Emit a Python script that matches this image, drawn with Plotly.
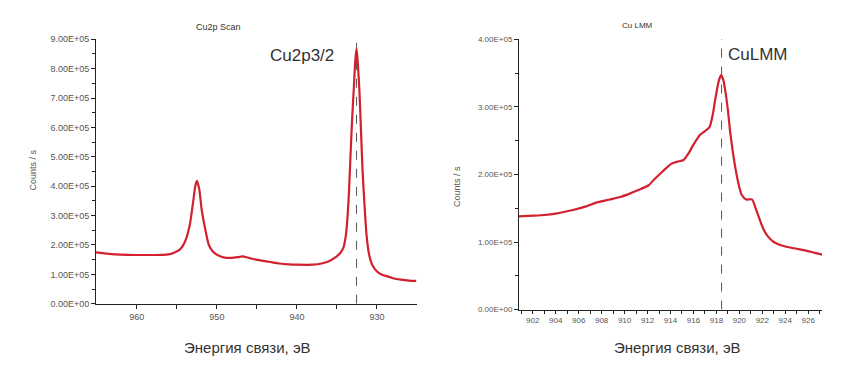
import plotly.graph_objects as go

# ---- data: Cu2p scan ----
cu2p_energy = [965.1, 963.5, 962.0, 960.0, 958.0, 956.3, 955.5, 954.6, 954.0, 953.4, 953.0, 952.7,
               952.5, 952.2, 951.9, 951.5, 951.0, 950.5, 949.8, 949.2, 948.2, 947.3, 946.8, 946.0,
               945.1, 943.5, 942.2, 941.0, 940.0, 938.0, 936.8, 936.0, 935.2, 934.6, 934.2, 933.9,
               933.7, 933.5, 933.3, 933.1, 932.9, 932.7, 932.55, 932.4, 932.2, 932.0, 931.8, 931.5,
               931.3, 931.0, 930.6, 930.0, 929.3, 928.9, 928.0, 927.0, 926.0, 925.1]
cu2p_counts = [1.75, 1.70, 1.67, 1.66, 1.66, 1.67, 1.72, 1.85, 2.10, 2.66, 3.40, 4.00,
               4.18, 3.90, 3.20, 2.60, 2.00, 1.78, 1.64, 1.58, 1.56, 1.59, 1.61, 1.56,
               1.50, 1.43, 1.37, 1.34, 1.33, 1.33, 1.38, 1.45, 1.58, 1.72, 1.90, 2.30,
               2.88, 3.80, 5.09, 6.30, 7.30, 8.30, 8.68, 8.20, 7.30, 5.90, 4.54, 3.10,
               2.33, 1.70, 1.33, 1.10, 0.98, 0.95, 0.87, 0.82, 0.79, 0.78]  # x1e5

# ---- data: Cu LMM ----
lmm_energy = [900.8, 902.0, 903.0, 904.0, 905.4, 906.5, 907.7, 908.7, 909.7, 910.5, 911.2, 912.1,
              912.6, 913.1, 913.6, 914.1, 914.6, 915.1, 915.6, 916.0, 916.6, 917.0, 917.4, 917.7,
              917.9, 918.2, 918.4, 918.6, 918.8, 919.0, 919.2, 919.6, 919.9, 920.2, 920.6, 921.1,
              921.5, 921.8, 922.1, 922.5, 923.0, 923.5, 924.1, 925.0, 925.9, 926.6, 927.3]
lmm_counts = [1.38, 1.39, 1.40, 1.42, 1.47, 1.52, 1.59, 1.63, 1.67, 1.72, 1.77, 1.84,
              1.93, 2.01, 2.09, 2.16, 2.19, 2.21, 2.32, 2.44, 2.59, 2.64, 2.70, 2.90,
              3.11, 3.38, 3.47, 3.40, 3.21, 2.95, 2.63, 2.15, 1.88, 1.70, 1.63, 1.63,
              1.46, 1.32, 1.19, 1.08, 1.00, 0.96, 0.93, 0.90, 0.87, 0.84, 0.81]  # x1e5

cu2p_peak = 932.55
lmm_peak = 918.45

left_yticks = [i * 1e5 for i in range(0, 10)]
right_yticks = [i * 1e5 for i in range(0, 5)]
left_xticks = list(range(930, 965, 5))
right_xticks = list(range(901, 928))

FONT = "Liberation Sans, Arial, sans-serif"
RED = "#d3202e"
OFF = 8            # page body margin
W, H = 841 - OFF, 372 - OFF


def fx(p):
    return (p - OFF) / W


def fy(p):
    return 1 - (p - OFF) / H


fig = go.Figure()
fig.add_trace(go.Scatter(x=cu2p_energy, y=[c * 1e5 for c in cu2p_counts], mode="lines",
                         line=dict(color=RED, width=2.2, shape="spline", smoothing=0.6),
                         xaxis="x", yaxis="y", showlegend=False))
fig.add_trace(go.Scatter(x=lmm_energy, y=[c * 1e5 for c in lmm_counts], mode="lines",
                         line=dict(color=RED, width=2.2, shape="spline", smoothing=0.6),
                         xaxis="x2", yaxis="y2", showlegend=False))

axis_common = dict(showline=True, linecolor="#222", linewidth=1, ticks="outside",
                   tickcolor="#222", showgrid=False, zeroline=False, mirror=False)

fig.update_layout(
    width=W, height=H, paper_bgcolor="white", plot_bgcolor="white",
    margin=dict(l=0, r=0, t=0, b=0), showlegend=False,
    font=dict(family=FONT, color="#444"),
    xaxis=dict(domain=[fx(96), fx(417)], range=[965.1, 925.0], anchor="y",
               tickvals=left_xticks,
               ticktext=[str(v) if v % 10 == 0 else "" for v in left_xticks],
               ticklen=4, tickfont=dict(size=9, color="#555"), **axis_common),
    yaxis=dict(domain=[fy(307), fy(35)], range=[0, 9e5], anchor="x",
               tickvals=left_yticks, ticktext=[f"{v:.2E}" for v in left_yticks],
               ticklen=4, tickfont=dict(size=9, color="#555"),
               minor=dict(dtick=5e4, ticklen=3, tickcolor="#222", ticks="outside"),
               **axis_common),
    xaxis2=dict(domain=[fx(519), fx(822)], range=[900.8, 927.2], anchor="y2",
                tickvals=right_xticks,
                ticktext=[str(v) if v % 2 == 0 else "" for v in right_xticks],
                ticklen=3, tickfont=dict(size=8, color="#555"), **axis_common),
    yaxis2=dict(domain=[fy(313), fy(35)], range=[0, 4e5], anchor="x2",
                tickvals=right_yticks, ticktext=[f"{v:.2E}" for v in right_yticks],
                ticklen=4, tickfont=dict(size=8, color="#555"),
                minor=dict(dtick=5e4, ticklen=3, tickcolor="#222", ticks="outside"),
                **axis_common),
)

# dashed peak markers
fig.add_shape(type="line", xref="x", yref="y", x0=cu2p_peak, x1=cu2p_peak, y0=0, y1=9e5,
              line=dict(color="#555", width=1, dash="dash"), layer="below")
fig.add_shape(type="line", xref="x2", yref="y2", x0=lmm_peak, x1=lmm_peak, y0=0, y1=4.05e5,
              line=dict(color="#555", width=1, dash="dash"), layer="below")

mid = dict(showarrow=False, xanchor="center", yanchor="middle")
ann = [
    dict(text="Cu2p3/2", xref="x", yref="y", x=939.4, y=8.44e5,
         font=dict(size=17, color="#333"), **mid),
    dict(text="CuLMM", xref="x2", yref="y2", x=921.6, y=3.78e5,
         font=dict(size=17, color="#333"), **mid),
    dict(text="Cu2p Scan", xref="paper", yref="paper", x=fx(218), y=fy(22),
         font=dict(size=9, color="#333"), **mid),
    dict(text="Cu LMM", xref="paper", yref="paper", x=fx(637), y=fy(21),
         font=dict(size=8, color="#333"), **mid),
    dict(text="Counts / s", xref="paper", yref="paper", x=fx(33), y=fy(170),
         textangle=-90, font=dict(size=9, color="#555"), **mid),
    dict(text="Counts / s", xref="paper", yref="paper", x=fx(457), y=fy(187),
         textangle=-90, font=dict(size=9, color="#555"), **mid),
    dict(text="Энергия связи, эВ", xref="paper", yref="paper", x=fx(247), y=fy(352),
         font=dict(size=15, color="#333"), **mid),
    dict(text="Энергия связи, эВ", xref="paper", yref="paper", x=fx(677), y=fy(352),
         font=dict(size=15, color="#333"), **mid),
]
fig.update_layout(annotations=ann)

fig.write_html("out.html")
